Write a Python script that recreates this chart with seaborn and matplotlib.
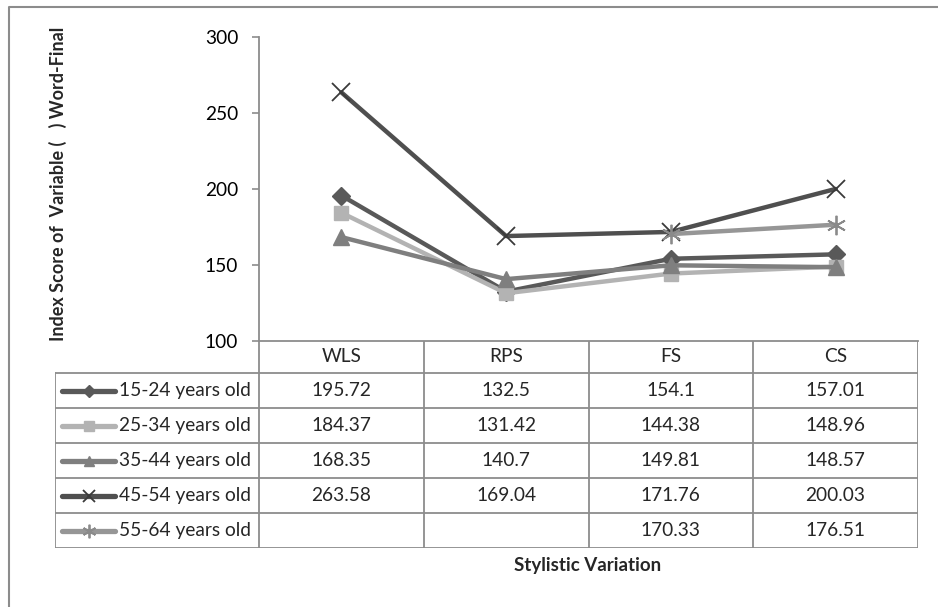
import numpy as np
import pandas as pd
import matplotlib.pyplot as plt
import seaborn as sns
from matplotlib.lines import Line2D

# podaci
categories = ['WLS', 'RPS', 'FS', 'CS']
groups = ['15-24 years old', '25-34 years old', '35-44 years old',
          '45-54 years old', '55-64 years old']
v1524 = [195.72, 132.5, 154.1, 157.01]
v2534 = [184.37, 131.42, 144.38, 148.96]
v3544 = [168.35, 140.7, 149.81, 148.57]
v4554 = [263.58, 169.04, 171.76, 200.03]
v5564 = [np.nan, np.nan, 170.33, 176.51]
values = [v1524, v2534, v3544, v4554, v5564]
yticks = [100, 150, 200, 250, 300]

line_colors = ['#595959', '#b3b3b3', '#7f7f7f', '#4f4f4f', '#969696']
mark_colors = ['#595959', '#b3b3b3', '#7f7f7f', '#3a3a3a', '#8a8a8a']
markers = ['D', 's', '^', 'x', (6, 2, 0)]
msizes = [9, 10, 11, 13, 14]
mews = [1, 1, 1, 1.3, 1.3]

sns.set_theme(style='white')
plt.rcParams['font.family'] = ['Lato', 'DejaVu Sans']
grid_c = '#8c8c8c'
fs = 13.8

W, H = 938, 607
fig = plt.figure(figsize=(W / 100, H / 100), dpi=100)

# glavni graf
ax = fig.add_axes([259 / W, 1 - 341 / H, 659 / W, 304 / H])
for g, vals, lc, mc, m, ms, mw in zip(groups, values, line_colors, mark_colors,
                                      markers, msizes, mews):
    df = pd.DataFrame({'cat': categories, 'val': vals}).dropna()
    sns.lineplot(data=df, x='cat', y='val', ax=ax, color=lc, lw=3.2,
                 marker=m, markersize=ms, markerfacecolor=mc,
                 markeredgecolor=mc, markeredgewidth=mw, sort=False)
ax.set_xlim(-0.5, 3.5)
ax.set_ylim(100, 300)
ax.set_yticks(yticks)
ax.set_xticks([])
ax.set_xlabel('')
ax.set_ylabel('')
ax.tick_params(axis='y', left=True, length=5, width=1.2, color=grid_c,
               pad=10, labelsize=fs, labelcolor='black')
for s in ['top', 'right']:
    ax.spines[s].set_visible(False)
for s in ['left', 'bottom']:
    ax.spines[s].set_color(grid_c)
    ax.spines[s].set_linewidth(1.3)

# tablica s podacima
x0 = -0.5 - (259 - 55) / 164.75
tab = fig.add_axes([55 / W, 1 - 548 / H, (918 - 55) / W, (548 - 341) / H])
tab.set_xlim(x0, 3.5)
tab.set_ylim(548, 341)
tab.axis('off')
rows = [373, 408, 443, 478, 513, 548]
for y in rows:
    tab.plot([x0, 3.5], [y, y], color=grid_c, lw=1.3, solid_capstyle='butt')
for x in [-0.5, 0.5, 1.5, 2.5, 3.5]:
    tab.plot([x, x], [341, 548], color=grid_c, lw=1.3)
tab.plot([x0, x0], [373, 548], color=grid_c, lw=1.3)

for i, c in enumerate(categories):
    tab.text(i, 357, c, ha='center', va='center', fontsize=fs)

px = lambda p: -0.5 + (p - 259) / 164.75
for r, (g, vals) in enumerate(zip(groups, values)):
    yc = (rows[r] + rows[r + 1]) / 2
    tab.add_line(Line2D([px(62), px(115)], [yc, yc], color=line_colors[r],
                        lw=3.8, solid_capstyle='round'))
    tab.add_line(Line2D([px(88.5)], [yc], marker=markers[r],
                        markersize=msizes[r] * 0.7,
                        markerfacecolor=mark_colors[r],
                        markeredgecolor=mark_colors[r],
                        markeredgewidth=mews[r], lw=0))
    tab.text(px(119), yc, g, ha='left', va='center', fontsize=fs)
    for i, v in enumerate(vals):
        if not np.isnan(v):
            tab.text(i, yc, f'{v:g}', ha='center', va='center', fontsize=fs)

# naslovi osi
fig.text(58 / W, 1 - 184 / H, 'Index Score of  Variable (   ) Word-Final',
         rotation=90, ha='center', va='center', fontsize=13,
         fontweight='bold')
fig.text(588 / W, 1 - 566 / H, 'Stylistic Variation', ha='center',
         va='center', fontsize=13.5, fontweight='bold')

# okvir
fig.add_artist(Line2D([9 / W, 9 / W, 1.0], [0, 1 - 7 / H, 1 - 7 / H],
                      color=grid_c, lw=1.5))

plt.savefig('out.png', dpi=100)
